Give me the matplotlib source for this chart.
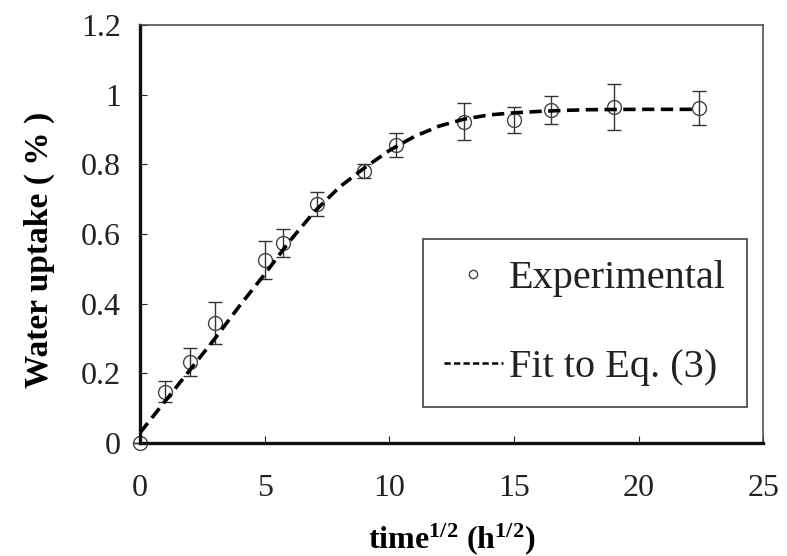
import matplotlib
matplotlib.use("Agg")
import matplotlib.pyplot as plt
from matplotlib.lines import Line2D

# experimental points (time^1/2 in h^1/2, water uptake in %)
time_sqrt = [0, 1, 2, 3, 5, 5.75, 7.1, 9, 10.25, 13, 15, 16.5, 19, 22.4]
uptake = [0, 0.147, 0.233, 0.345, 0.526, 0.575, 0.687, 0.78, 0.856,
          0.922, 0.928, 0.955, 0.965, 0.962]
uptake_err = [0, 0.03, 0.04, 0.06, 0.055, 0.04, 0.035, 0.02, 0.035,
              0.053, 0.037, 0.04, 0.065, 0.05]

# fitted curve
fit_x = [0, 1, 2, 3, 4, 5, 6, 7, 8, 9, 10, 11, 12, 13, 14, 15, 16, 17, 18, 20, 22.4]
fit_y = [0.03, 0.12, 0.21, 0.30, 0.395, 0.485, 0.58, 0.665, 0.735, 0.79, 0.84,
         0.88, 0.91, 0.93, 0.942, 0.948, 0.952, 0.955, 0.957, 0.958, 0.958]

plt.rcParams["font.family"] = ["Liberation Serif", "DejaVu Serif"]
plt.rcParams["mathtext.fontset"] = "custom"
plt.rcParams["mathtext.rm"] = "Liberation Serif:bold"
plt.rcParams["mathtext.bf"] = "Liberation Serif:bold"
plt.rcParams["mathtext.default"] = "bf"

fig = plt.figure(figsize=(7.87, 5.56), dpi=100)
ax = fig.add_axes([0.178, 0.203, 0.792, 0.752])

ax.errorbar(time_sqrt, uptake, yerr=uptake_err, fmt="o", markersize=10,
            mfc="none", mec="#444444", mew=1.0, ecolor="#333333",
            elinewidth=1.0, capsize=5, capthick=1.0, clip_on=False, zorder=2)
ax.plot(fit_x, fit_y, color="black", lw=2.6, linestyle=(0, (3.4, 1.8)), zorder=3)

ax.set_xlim(0, 25)
ax.set_ylim(0, 1.2)
ax.set_xticks([0, 5, 10, 15, 20, 25])
ax.set_yticks([0, 0.2, 0.4, 0.6, 0.8, 1.0, 1.2])
ax.set_yticklabels(["0", "0.2", "0.4", "0.6", "0.8", "1", "1.2"])
ax.tick_params(axis="both", direction="in", length=5, width=0.8,
               labelsize=23, colors="#222222")
ax.tick_params(axis="x", pad=22)
ax.tick_params(axis="y", pad=14)

for side in ("left", "bottom"):
    ax.spines[side].set_linewidth(2.4)
    ax.spines[side].set_color("#111111")
for side in ("top", "right"):
    ax.spines[side].set_linewidth(1.1)
    ax.spines[side].set_color("#444444")

ax.set_ylabel("Water uptake ( % )", fontsize=24, fontweight="bold")
ax.yaxis.set_label_coords(-0.137, 0.462)
ax.set_xlabel("time$^{1/2}$ (h$^{1/2}$)", fontsize=23, fontweight="bold", labelpad=13)

handles = [
    Line2D([], [], marker="o", linestyle="none", markersize=6, mfc="none",
           mec="#444444", mew=1.0),
    Line2D([], [], color="black", lw=1.8, linestyle=(0, (2.5, 1.3))),
]
leg = ax.legend(handles, ["Experimental", "Fit to Eq. (3)"], loc="lower right",
                bbox_to_anchor=(0.973, 0.086), fontsize=29, frameon=True,
                fancybox=False, edgecolor="#222222", handlelength=1.45,
                handletextpad=0.15, labelspacing=1.3, borderpad=0.52,
                borderaxespad=0)
leg.get_frame().set_linewidth(1.3)
for t in leg.get_texts():
    t.set_color("#222222")

fig.savefig("out.png", dpi=100)
